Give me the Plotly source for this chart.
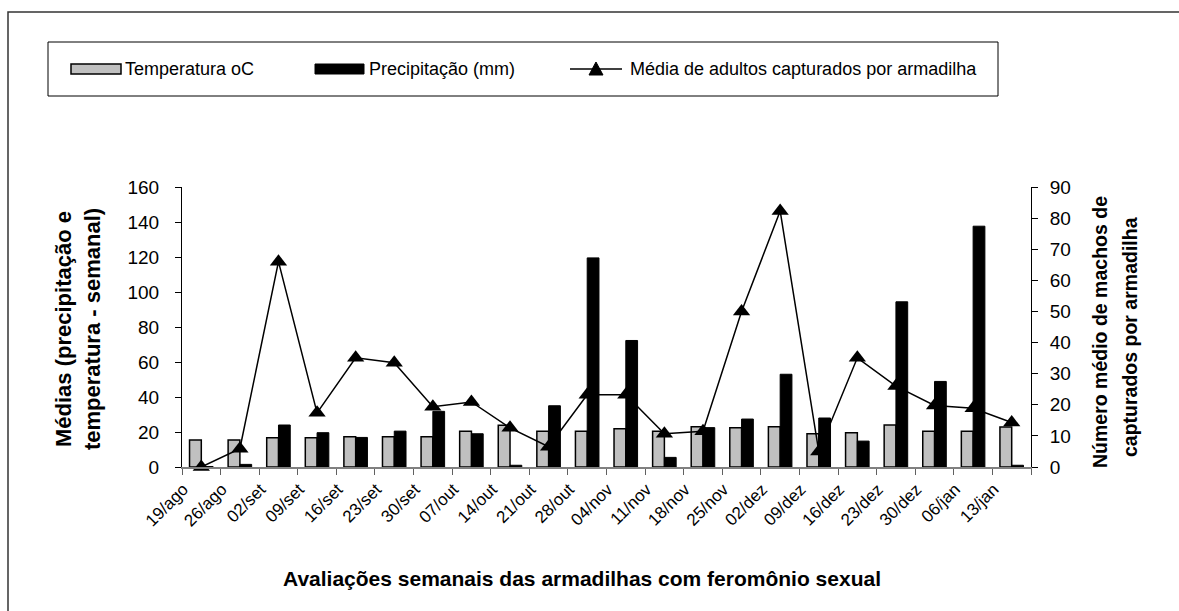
import plotly.graph_objects as go

categories = ["19/ago", "26/ago", "02/set", "09/set", "16/set", "23/set", "30/set",
              "07/out", "14/out", "21/out", "28/out", "04/nov", "11/nov", "18/nov",
              "25/nov", "02/dez", "09/dez", "16/dez", "23/dez", "30/dez", "06/jan", "13/jan"]
temperatura = [15.4, 15.4, 16.7, 16.7, 17.3, 17.3, 17.3, 20.5, 23.8, 20.5, 20.5,
               21.9, 20.5, 23.0, 22.5, 23.0, 19.0, 19.6, 24.0, 20.5, 20.5, 22.8]
precipitacao = [0.3, 1.5, 24.0, 19.6, 16.9, 20.5, 31.8, 19.0, 1.0, 35.0, 119.5,
                72.3, 5.5, 22.5, 27.4, 53.0, 28.0, 14.8, 94.4, 48.9, 137.6, 1.0]
adultos = [0.0, 5.9, 66.0, 17.4, 35.1, 33.5, 19.4, 20.9, 12.6, 6.5, 23.2,
           23.2, 10.7, 11.5, 50.0, 82.3, 5.0, 35.1, 26.0, 19.8, 18.9, 14.3]

left_ticks = list(range(0, 161, 20))
right_ticks = list(range(0, 91, 10))

FONT = "Liberation Sans, Arial, sans-serif"
W, H = 1179, 611
L, R, T, B = 182, 1031, 187, 467


def px(x):
    return (x - L) / (R - L)


def py(y):
    return (B - y) / (B - T)


fig = go.Figure()
fig.add_trace(go.Bar(x=categories, y=temperatura, name="Temperatura oC",
                     marker=dict(color="#c0c0c0", line=dict(color="black", width=1.5)),
                     yaxis="y", showlegend=False))
fig.add_trace(go.Bar(x=categories, y=precipitacao, name="Precipitação (mm)",
                     marker=dict(color="black", line=dict(color="black", width=1)),
                     yaxis="y", showlegend=False))
fig.add_trace(go.Scatter(x=categories, y=adultos, name="Média de adultos capturados por armadilha",
                         mode="lines+markers", yaxis="y2",
                         line=dict(color="black", width=1.5),
                         marker=dict(symbol="triangle-up", size=15, color="black"),
                         showlegend=False, cliponaxis=False))

shapes = []
# outer chart border
shapes.append(dict(type="rect", xref="paper", yref="paper",
                   x0=px(8), x1=px(1250), y0=py(12), y1=py(700),
                   line=dict(color="#333333", width=1.5), layer="below"))
# legend box
shapes.append(dict(type="rect", xref="paper", yref="paper",
                   x0=px(48), x1=px(998), y0=py(42), y1=py(96),
                   line=dict(color="black", width=1)))
# legend swatches
shapes.append(dict(type="rect", xref="paper", yref="paper",
                   x0=px(71), x1=px(121), y0=py(64), y1=py(74),
                   fillcolor="#c0c0c0", line=dict(color="black", width=1.5)))
shapes.append(dict(type="rect", xref="paper", yref="paper",
                   x0=px(315), x1=px(364), y0=py(64), y1=py(74),
                   fillcolor="black", line=dict(color="black", width=1)))
shapes.append(dict(type="line", xref="paper", yref="paper",
                   x0=px(570), x1=px(622), y0=py(69), y1=py(69),
                   line=dict(color="black", width=1.5)))
tri = "M {:.5f},{:.5f} L {:.5f},{:.5f} L {:.5f},{:.5f} Z".format(
    px(589), py(75), px(603), py(75), px(596), py(62))
shapes.append(dict(type="path", xref="paper", yref="paper", path=tri,
                   fillcolor="black", line=dict(color="black", width=1)))

annotations = []
for xt, txt in [(123, "Temperatura oC"), (367, "Precipitação (mm)"),
                (628, "Média de adultos capturados por armadilha")]:
    annotations.append(dict(x=px(xt), y=py(69), xref="paper", yref="paper",
                            text=txt, showarrow=False, xanchor="left", yanchor="middle",
                            font=dict(family=FONT, size=18, color="black")))
annotations.append(dict(x=px(582), y=py(578), xref="paper", yref="paper",
                        text="<b>Avaliações semanais das armadilhas com feromônio sexual</b>",
                        showarrow=False, xanchor="center", yanchor="middle",
                        font=dict(family=FONT, size=21, color="black")))
for xt, txt, yc, sz in [(63, "Médias (precipitação e", 329, 22),
                        (92, "temperatura - semanal)", 329, 22),
                        (1100, "Número médio de machos de", 332, 19.5),
                        (1130, "capturados por armadilha", 337, 19.5)]:
    annotations.append(dict(x=px(xt), y=py(yc), xref="paper", yref="paper",
                            text="<b>" + txt + "</b>",
                            showarrow=False, textangle=-90, xanchor="center", yanchor="middle",
                            font=dict(family=FONT, size=sz, color="black")))

fig.update_layout(
    width=W, height=H,
    margin=dict(l=L, r=W - R, t=T, b=H - B, pad=0),
    paper_bgcolor="white", plot_bgcolor="white",
    barmode="group", bargap=0.39, bargroupgap=0,
    font=dict(family=FONT, size=18, color="black"),
    shapes=shapes, annotations=annotations,
    xaxis=dict(type="category", range=[-0.5, len(categories) - 0.5],
               tickangle=-45, ticks="outside", ticklen=6, ticklabelstandoff=4,
               ticklabelshift=-18,
               tickson="boundaries", showline=True, linecolor="#808080", linewidth=1.5,
               tickcolor="#606060", showgrid=False, zeroline=False,
               tickfont=dict(family=FONT, size=17, color="black")),
    yaxis=dict(range=[0, 160], tickvals=left_ticks, ticks="outside", ticklen=6,
               ticklabelstandoff=12,
               showline=True, linecolor="black", linewidth=1, tickcolor="black",
               showgrid=False, zeroline=False,
               tickfont=dict(family=FONT, size=19, color="black")),
    yaxis2=dict(range=[0, 90], tickvals=right_ticks, overlaying="y", side="right",
                ticks="outside", ticklen=6, ticklabelstandoff=8,
                showline=True, linecolor="black", linewidth=1,
                tickcolor="black", showgrid=False, zeroline=False,
                tickfont=dict(family=FONT, size=19, color="black")),
)

fig.write_html("out.html", config={"displayModeBar": False},
               post_script="document.body.style.margin='0';")
